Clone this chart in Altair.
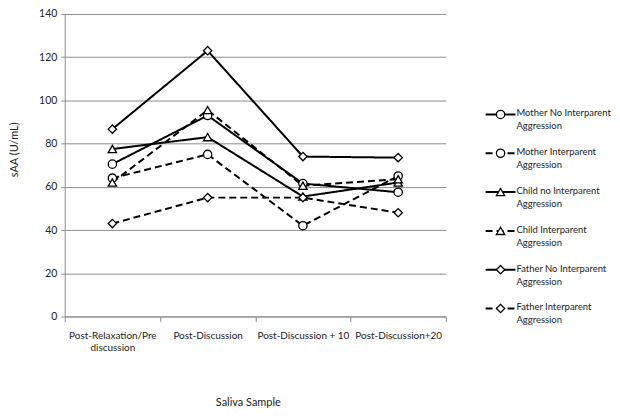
import altair as alt
import pandas as pd

samples = ["Post-Relaxation/Pre discussion", "Post-Discussion", "Post-Discussion + 10", "Post-Discussion+20"]
series = [
    "Mother No Interparent Aggression",
    "Mother Interparent Aggression",
    "Child no Interparent Aggression",
    "Child Interparent Aggression",
    "Father No Interparent Aggression",
    "Father Interparent Aggression",
]
legend_labels = [
    "Mother No Interparent\nAggression",
    "Mother Interparent\nAggression",
    "Child no Interparent\nAggression",
    "Child Interparent\nAggression",
    "Father No Interparent\nAggression",
    "Father Interparent\nAggression",
]
mother_no = [70.5, 93, 61.5, 57.5]
mother_inter = [64, 75, 42, 65]
child_no = [77.5, 83, 55.5, 62]
child_inter = [62, 95.5, 60.5, 63.5]
father_no = [86.7, 123, 74, 73.5]
father_inter = [43, 55, 55, 48]
values = [mother_no, mother_inter, child_no, child_inter, father_no, father_inter]

shapes = ["circle", "circle", "triangle-up", "triangle-up", "diamond", "diamond"]
sizes = [70, 70, 85, 85, 45, 45]
dashes = [[1, 0], [7, 4], [1, 0], [7, 4], [1, 0], [7, 4]]

rows = []
for s, vals in zip(series, values):
    for samp, v in zip(samples, vals):
        rows.append({"series": s, "sample": samp, "value": v})
df = pd.DataFrame(rows)

FONT = "Lato"
TXT = "#222222"
GRID = "#8c8c8c"
H = 304

x_enc = alt.X(
    "sample:N", sort=samples, bandPosition=0.5,
    scale=alt.Scale(type="band", paddingInner=0, paddingOuter=0),
    axis=alt.Axis(
        title="Saliva Sample", tickBand="extent", grid=False,
        labelAngle=0, tickSize=5, labelPadding=9, labelLineHeight=12, labelFontSize=10,
        labelExpr="datum.label == 'Post-Relaxation/Pre discussion' ? ['Post-Relaxation/Pre', 'discussion'] : datum.label",
        titleX=184, titleY=86, titleBaseline="middle", titleFontWeight="normal",
    ),
)
y_enc = alt.Y(
    "value:Q", scale=alt.Scale(domain=[0, 140]),
    axis=alt.Axis(
        title="sAA (U/mL)", values=[0, 20, 40, 60, 80, 100, 120, 140],
        tickSize=4, labelPadding=4, titleFontWeight="normal",
        titlePadding=19, titleY=136, titleAlign="center",
    ),
)

base = alt.Chart(df).encode(x=x_enc, y=y_enc)
lines = base.mark_line(color="black", strokeWidth=2).encode(
    detail="series:N",
    strokeDash=alt.StrokeDash("series:N", scale=alt.Scale(domain=series, range=dashes), legend=None),
)
points = base.mark_point(filled=True, fill="white", stroke="black", strokeWidth=1.3, opacity=1).encode(
    shape=alt.Shape("series:N", scale=alt.Scale(domain=series, range=shapes), legend=None),
    size=alt.Size("series:N", scale=alt.Scale(domain=series, range=sizes), legend=None),
)
main = alt.layer(lines, points).properties(width=383, height=H)

# custom legend
lrows = []
for s, lab in zip(series, legend_labels):
    lrows.append({"series": s, "lx": 0, "label": lab})
    lrows.append({"series": s, "lx": 1, "label": lab})
ldf = pd.DataFrame(lrows)
ly = alt.Y("series:N", sort=series, axis=None, scale=alt.Scale(type="point", padding=0, range=[101, 296]))
lx = alt.X("lx:Q", axis=None, scale=alt.Scale(domain=[0, 1]))
lbase = alt.Chart(ldf).encode(y=ly)
lline = lbase.mark_line(color="black", strokeWidth=2).encode(
    x=lx, detail="series:N",
    strokeDash=alt.StrokeDash("series:N", scale=alt.Scale(domain=series, range=dashes), legend=None),
)
lpt = alt.Chart(ldf[ldf.lx == 0]).mark_point(filled=True, fill="white", stroke="black", strokeWidth=1.3, opacity=1).encode(
    y=ly, x=alt.value(15),
    shape=alt.Shape("series:N", scale=alt.Scale(domain=series, range=shapes), legend=None),
    size=alt.Size("series:N", scale=alt.Scale(domain=series, range=[s * 0.7 for s in sizes]), legend=None),
)
ltext = alt.Chart(ldf[ldf.lx == 1]).mark_text(
    align="left", baseline="top", dx=1, dy=-6, lineBreak="\n", lineHeight=13,
    font=FONT, fontSize=9.5, color=TXT,
).encode(y=ly, x=lx, text="label:N")
legend = alt.layer(lline, lpt, ltext).properties(width=30, height=H)

chart = alt.hconcat(
    main, legend, spacing=35, padding={"left": 0, "top": 0, "right": 0, "bottom": 0}
).configure_view(strokeWidth=0).configure_axis(
    labelFont=FONT, titleFont=FONT, labelFontSize=10.5, titleFontSize=11,
    labelColor=TXT, titleColor=TXT, domainColor=GRID, tickColor=GRID, gridColor=GRID,
    gridWidth=1, domainWidth=1,
)

chart.save("out.html", embed_options={"renderer": "svg", "actions": False})
